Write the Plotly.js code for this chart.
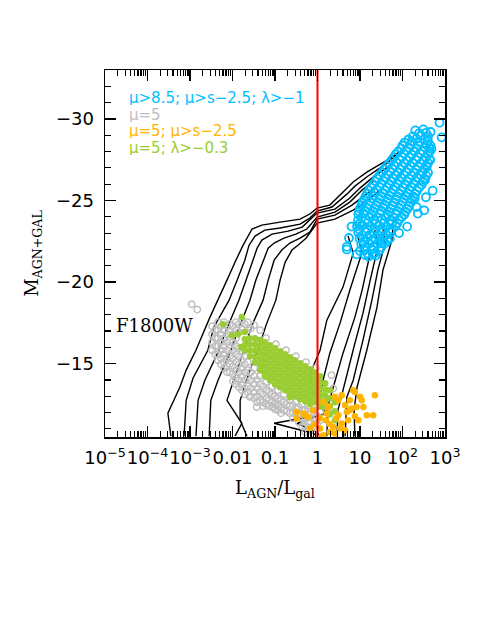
<!DOCTYPE html>
<html>
<head>
<meta charset="utf-8">
<script src="https://cdn.plot.ly/plotly-3.0.1.min.js"></script>
<style>html,body{margin:0;padding:0;background:#fff}#plot{width:485px;height:627px}</style>
</head>
<body>
<div id="plot"></div>
<script>
// ---- x values are given as log10(L_AGN/L_gal) ----
// Model tracks (black lines)
const trackLogL = [
  [-3.45,-3.52,-3.38,-3.24,-3.09,-2.86,-2.53,-2.34,-2.13,-1.92,-1.75,-1.54,-1.31,-0.88,-0.41,-0.18,-0.01,0.29,0.65,0.84,1.16,1.64,1.92],
  [-3.14,-3.09,-2.93,-2.58,-2.44,-2.08,-1.89,-1.71,-1.61,-1.47,-1.24,-0.88,-0.41,-0.18,-0.01,0.34,0.69,0.88,1.19,1.64,1.85],
  [-2.86,-2.81,-2.65,-2.32,-2.15,-1.85,-1.68,-1.52,-1.42,-1.31,-1.07,-0.69,-0.36,-0.01,0.41,0.76,1.00,1.28,1.71],
  [-2.55,-2.51,-2.34,-2.04,-1.87,-1.59,-1.45,-1.28,-1.16,-1.02,-0.79,-0.51,-0.25,-0.01,0.41,0.76,1.05,1.35],
  [-1.94,-1.78,-2.13,-2.01,-1.73,-1.54,-1.28,-1.16,-1.02,-0.84,-0.65,-0.41,-0.18,-0.01,0.41,0.81,1.12,1.42],
  [-1.66,-1.82,-1.82,-1.59,-1.40,-1.21,-0.98,-0.88,-0.76,-0.60,-0.46,-0.27,-0.01,0.41,0.84,1.19,1.47],
  [0.72,0.84,0.60,0.22,0.06,-0.11,-0.18,0.01,0.29,-1.02,-0.11,-0.01],
  [0.93,1.05,0.76,0.53,0.29,0.13,0.06,0.18,-0.48,-0.01,0.06],
  [1.14,1.24,1.05,0.88,0.60,0.36,0.25,0.22],
  [1.35,1.42,1.24,1.07,0.88,0.65,0.48,0.46],
  [1.54,1.59,1.42,1.28,1.07,0.84,0.69,0.65],
  [1.78,1.75,1.54,1.40,1.16,0.93,0.86,0.88]
];
const trackMag = [
  [-10.55,-11.96,-12.75,-13.55,-14.60,-15.82,-17.85,-18.89,-20.12,-21.34,-22.26,-23.25,-23.49,-23.67,-23.86,-24.17,-24.53,-24.72,-25.64,-26.13,-26.74,-27.48,-27.97],
  [-10.55,-12.75,-14.10,-15.82,-17.23,-18.89,-20.12,-21.34,-22.26,-22.82,-23.18,-23.31,-23.55,-23.92,-24.35,-24.60,-25.39,-25.88,-26.50,-27.29,-27.79],
  [-10.55,-12.75,-13.98,-15.82,-17.05,-18.89,-20.12,-21.34,-22.08,-22.57,-22.94,-23.12,-23.37,-24.23,-24.47,-25.15,-25.76,-26.37,-27.17],
  [-10.55,-12.75,-13.98,-15.82,-17.05,-18.89,-20.12,-21.34,-22.08,-22.39,-22.69,-22.94,-23.25,-23.98,-24.29,-24.90,-25.64,-26.25],
  [-10.55,-11.34,-12.75,-13.67,-15.82,-17.36,-18.89,-20.12,-21.34,-21.96,-22.39,-22.69,-23.06,-23.86,-24.10,-24.72,-25.33,-25.94],
  [-10.55,-11.53,-12.75,-14.60,-15.82,-17.36,-18.89,-20.12,-21.22,-21.96,-22.26,-22.69,-23.61,-23.86,-24.41,-25.02,-25.64],
  [-22.82,-21.77,-19.69,-17.66,-15.82,-14.78,-13.67,-12.75,-11.96,-11.34,-10.73,-10.55],
  [-22.94,-21.83,-19.50,-17.48,-15.64,-13.98,-12.75,-11.96,-11.34,-10.79,-10.55],
  [-23.00,-21.77,-19.50,-17.85,-15.64,-13.55,-12.45,-10.55],
  [-23.18,-22.14,-20.12,-18.09,-16.25,-13.80,-12.14,-10.55],
  [-23.31,-22.39,-20.73,-18.89,-16.44,-13.98,-12.94,-10.55],
  [-23.55,-22.57,-20.73,-18.46,-15.82,-13.55,-12.14,-10.55]
];

// mu>8.5; mu>s-2.5; lambda>-1 (blue open circles)
const blueLogL = [
  2.30,2.49, 2.39,2.55,
  2.24,2.43,2.60, 2.14,2.33,2.52,
  2.05,2.22,2.41,2.60, 2.00,2.18,2.37,2.56,2.66,
  1.97,2.15,2.33,2.52,2.68, 1.90,2.09,2.28,2.47,2.64,
  1.84,2.03,2.22,2.41,2.60, 1.79,1.98,2.17,2.36,2.55,
  1.74,1.93,2.12,2.31,2.50,2.64, 1.68,1.86,2.05,2.24,2.43,2.60,
  1.62,1.80,1.99,2.18,2.37,2.56, 1.57,1.76,1.95,2.14,2.33,2.52,
  1.52,1.71,1.90,2.09,2.28,2.47,2.60, 1.46,1.65,1.84,2.03,2.22,2.41,2.56,
  1.40,1.58,1.77,1.96,2.15,2.34,2.52, 1.36,1.55,1.74,1.93,2.12,2.31,2.48,
  1.31,1.50,1.69,1.88,2.07,2.26,2.45, 1.26,1.45,1.64,1.83,2.02,2.21,2.39,
  1.21,1.40,1.59,1.78,1.97,2.16,2.34, 1.17,1.36,1.55,1.74,1.93,2.12,2.30,
  1.13,1.31,1.50,1.69,1.88,2.07,2.26, 1.10,1.28,1.47,1.66,1.85,2.04,2.22,
  1.06,1.24,1.43,1.62,1.81,2.00,2.19, 1.03,1.20,1.39,1.58,1.77,1.96,2.15,
  1.00,1.16,1.35,1.54,1.73,1.92,2.12, 0.98,1.12,1.31,1.50,1.69,1.88,2.07,
  0.96,1.09,1.28,1.47,1.66,1.85,2.04, 1.04,1.23,1.42,1.61,1.80,1.98,
  0.95,1.14,1.33,1.52,1.71,1.92, 0.99,1.18,1.37,1.56,1.75,1.88,
  0.93,1.06,1.25,1.44,1.63,1.84, 0.98,1.16,1.35,1.54,1.75,
  0.96,1.14,1.33,1.52,1.72, 1.05,1.24,1.43,1.62,
  0.99,1.17,1.36,1.55,1.70, 1.08,1.27,1.46,1.64,
  1.03,1.22,1.41,1.59, 1.12,1.31,1.50,
  1.10,1.29,1.46, 1.18,1.36,
  1.20,1.37,
  2.87,2.92,2.66,2.63,2.57,2.53,2.71,2.51,2.36,2.11,1.92,1.53,1.31,1.12,0.92,0.69,0.80,0.74,2.65,2.55,2.29,2.33,0.69,1.00
];
const blueMag = [
  -29.30,-29.36, -29.12,-29.15,
  -28.93,-28.98,-28.92, -28.74,-28.79,-28.75,
  -28.55,-28.61,-28.57,-28.62, -28.37,-28.42,-28.38,-28.41,-28.36,
  -28.19,-28.24,-28.20,-28.26,-28.17, -28.01,-28.06,-28.02,-28.05,-28.00,
  -27.83,-27.88,-27.81,-27.89,-27.84, -27.64,-27.69,-27.65,-27.68,-27.63,
  -27.46,-27.51,-27.45,-27.50,-27.44,-27.53, -27.27,-27.32,-27.28,-27.31,-27.26,-27.30,
  -27.09,-27.14,-27.10,-27.13,-27.07,-27.15, -26.91,-26.96,-26.92,-26.95,-26.90,-26.94,
  -26.72,-26.77,-26.73,-26.76,-26.71,-26.78,-26.70, -26.54,-26.59,-26.55,-26.58,-26.53,-26.57,-26.52,
  -26.35,-26.40,-26.36,-26.41,-26.34,-26.39,-26.33, -26.17,-26.22,-26.18,-26.21,-26.16,-26.20,-26.15,
  -25.99,-26.04,-26.00,-26.05,-25.98,-26.03,-25.97, -25.80,-25.85,-25.81,-25.84,-25.79,-25.83,-25.78,
  -25.62,-25.67,-25.63,-25.68,-25.61,-25.66,-25.60, -25.43,-25.48,-25.44,-25.47,-25.42,-25.46,-25.41,
  -25.25,-25.30,-25.26,-25.31,-25.24,-25.29,-25.23, -25.07,-25.12,-25.08,-25.11,-25.06,-25.10,-25.05,
  -24.88,-24.93,-24.89,-24.94,-24.87,-24.92,-24.86, -24.70,-24.75,-24.71,-24.74,-24.69,-24.73,-24.68,
  -24.51,-24.56,-24.52,-24.57,-24.50,-24.55,-24.49, -24.33,-24.38,-24.34,-24.37,-24.32,-24.36,-24.31,
  -24.15,-24.20,-24.16,-24.21,-24.14,-24.19,-24.13, -23.96,-24.01,-23.97,-24.00,-23.95,-23.99,
  -23.78,-23.83,-23.79,-23.84,-23.77,-23.82, -23.59,-23.64,-23.60,-23.63,-23.58,-23.62,
  -23.41,-23.46,-23.42,-23.47,-23.40,-23.45, -23.23,-23.28,-23.24,-23.27,-23.22,
  -23.04,-23.09,-23.05,-23.10,-23.03, -22.86,-22.91,-22.87,-22.90,
  -22.67,-22.72,-22.68,-22.73,-22.66, -22.49,-22.54,-22.50,-22.53,
  -22.31,-22.36,-22.32,-22.37, -22.12,-22.17,-22.13,
  -21.94,-21.99,-21.95, -21.75,-21.80,
  -21.57,-21.62,
  -29.77,-28.87,-29.20,-28.20,-27.07,-26.25,-25.60,-24.40,-24.20,-23.40,-23.00,-22.40,-21.70,-21.65,-21.70,-22.00,-23.40,-22.70,-27.48,-25.20,-25.13,-24.60,-22.16,-21.90
];

// mu=5 (grey open circles)
const greyLogL = [
  -2.48,-2.48,-2.48,-2.48,
  -2.41,-2.41,-2.41,-2.41,
  -2.34,-2.34,-2.34,-2.34,-2.34,-2.34,
  -2.27,-2.27,-2.27,-2.27,-2.27,-2.27,
  -2.20,-2.20,-2.20,-2.20,-2.20,-2.20,-2.20,
  -2.13,-2.13,-2.13,-2.13,-2.13,-2.13,-2.13,
  -2.06,-2.06,-2.06,-2.06,-2.06,-2.06,-2.06,
  -1.99,-1.99,-1.99,-1.99,-1.99,-1.99,-1.99,-1.99,
  -1.92,-1.92,-1.92,-1.92,-1.92,-1.92,-1.92,-1.92,-1.92,
  -1.85,-1.85,-1.85,-1.85,-1.85,-1.85,-1.85,-1.85,
  -1.78,-1.78,-1.78,-1.78,-1.78,-1.78,-1.78,-1.78,
  -1.71,-1.71,-1.71,-1.71,-1.71,-1.71,-1.71,
  -1.64,-1.64,-1.64,-1.64,-1.64,-1.64,-1.64,
  -1.57,-1.57,-1.57,-1.57,-1.57,
  -1.49,-1.49,-1.49,-1.49,-1.49,-1.49,
  -1.42,-1.42,-1.42,-1.42,
  -1.35,-1.35,-1.35,-1.35,-1.35,
  -1.28,-1.28,-1.28,-1.28,
  -1.21,-1.21,-1.21,-1.21,
  -1.14,-1.14,-1.14,
  -1.07,-1.07,-1.07,-1.07,
  -1.00,-1.00,-1.00,
  -0.93,-0.93,-0.93,-0.93,
  -0.86,-0.86,-0.86,
  -0.79,-0.79,-0.79,
  -0.72,-0.72,
  -0.65,-0.65,-0.65,
  -0.58,-0.58,-0.58,
  -0.51,-0.51,-0.51,
  -0.44,-0.44,-0.44,
  -0.36,-0.36,-0.36,-0.36,
  -0.29,-0.29,-0.29,-0.29,
  -0.22,-0.22,-0.22,-0.22,
  -0.15,-0.15,-0.15,
  -0.08,-0.08,-0.08,-0.08,
  -0.01,-0.01,
  0.06,0.06,
  -2.96,-2.83,0.33,0.37,0.18,0.29,-0.25,-1.59,-1.43,-1.04,-0.41,
  -1.21,-0.98,-0.74,-0.51,-0.27,-0.04
];
const greyMag = [
  -17.29,-16.80,-16.31,-15.82,
  -17.05,-16.56,-16.07,-15.58,
  -17.54,-17.05,-16.56,-16.07,-15.58,-15.21,
  -17.30,-16.80,-16.31,-15.82,-15.33,-14.96,
  -17.54,-17.05,-16.56,-16.07,-15.58,-15.09,-14.72,
  -17.30,-16.80,-16.31,-15.82,-15.33,-14.84,-14.47,
  -17.42,-16.93,-16.44,-15.94,-15.45,-14.96,-14.47,
  -17.30,-16.80,-16.31,-15.82,-15.33,-14.84,-14.35,-13.92,
  -17.54,-17.05,-16.56,-16.07,-15.58,-15.09,-14.60,-14.10,-13.74,
  -17.42,-16.93,-15.94,-15.45,-14.96,-14.47,-13.98,-13.55,
  -17.66,-17.17,-15.70,-15.21,-14.72,-14.23,-13.74,-13.37,
  -17.42,-15.45,-14.96,-14.47,-13.98,-13.49,-13.12,
  -17.54,-17.05,-15.09,-14.60,-14.10,-13.61,-13.25,
  -17.17,-14.47,-13.98,-13.49,-13.00,
  -17.36,-14.72,-14.23,-13.74,-13.25,-12.88,
  -14.00,-13.49,-13.00,-12.63,
  -17.05,-14.23,-13.74,-13.25,-12.75,
  -13.61,-13.12,-12.63,-12.39,
  -13.86,-13.37,-12.88,-12.51,
  -13.25,-12.75,-12.39,
  -13.61,-13.12,-12.63,-12.33,
  -13.00,-12.51,-12.20,
  -13.37,-12.88,-12.39,-12.14,
  -12.75,-12.26,-11.96,
  -13.12,-12.63,-12.14,
  -12.51,-12.08,
  -12.75,-12.39,-11.96,
  -12.45,-12.02,-11.65,
  -12.63,-12.26,-11.90,
  -12.33,-11.90,-11.40,
  -12.51,-12.14,-11.65,-11.16,
  -12.14,-11.65,-11.16,-10.79,
  -12.39,-11.90,-11.40,-10.91,
  -11.90,-11.40,-10.91,
  -12.14,-11.65,-11.16,-10.67,
  -11.78,-11.28,
  -12.02,-11.53,
  -18.64,-18.32,-14.29,-13.47,-12.75,-11.94,-14.49,-12.96,-12.34,-12.34,-11.94,
  -16.56,-16.19,-15.82,-15.45,-15.09,-14.72
];

// mu=5; lambda>-0.3 (green filled)
const greenLogL = [
  -1.71,-1.71,-1.71,
  -1.59,-1.59,-1.59,-1.59,
  -1.47,-1.47,-1.47,-1.47,-1.47,
  -1.35,-1.35,-1.35,-1.35,-1.35,-1.35,
  -1.24,-1.24,-1.24,-1.24,-1.24,-1.24,-1.24,
  -1.12,-1.12,-1.12,-1.12,-1.12,-1.12,-1.12,
  -1.00,-1.00,-1.00,-1.00,-1.00,-1.00,-1.00,
  -0.88,-0.88,-0.88,-0.88,-0.88,-0.88,-0.88,
  -0.76,-0.76,-0.76,-0.76,-0.76,-0.76,-0.76,
  -0.65,-0.65,-0.65,-0.65,-0.65,-0.65,-0.65,-0.65,
  -0.53,-0.53,-0.53,-0.53,-0.53,-0.53,-0.53,
  -0.41,-0.41,-0.41,-0.41,-0.41,-0.41,-0.41,
  -0.29,-0.29,-0.29,-0.29,-0.29,-0.29,-0.29,
  -0.18,-0.18,-0.18,-0.18,-0.18,-0.18,-0.18,
  -0.06,-0.06,-0.06,-0.06,-0.06,-0.06,
  0.06,0.06,0.06,0.06,0.06,0.06,
  0.18,0.18,0.18,0.18,0.18,
  0.29,0.29,0.29,0.29,
  0.41,0.41,0.41,
  -2.22,-1.78,-1.87,-1.71,-2.02,-1.80
];
const greenMag = [
  -16.50,-16.13,-15.82,
  -16.56,-16.19,-15.82,-15.45,
  -16.56,-16.19,-15.82,-15.45,-15.09,
  -16.44,-16.07,-15.70,-15.33,-14.96,-14.60,
  -16.31,-15.94,-15.58,-15.21,-14.84,-14.47,-14.23,
  -16.13,-15.76,-15.39,-15.02,-14.66,-14.29,-13.98,
  -15.94,-15.58,-15.21,-14.84,-14.47,-14.10,-13.74,
  -15.76,-15.39,-15.02,-14.66,-14.29,-13.92,-13.55,
  -15.58,-15.21,-14.84,-14.47,-14.10,-13.74,-13.37,
  -15.39,-15.02,-14.66,-14.29,-13.92,-13.55,-13.18,-12.94,
  -15.21,-14.84,-14.47,-14.10,-13.74,-13.37,-13.00,
  -15.02,-14.66,-14.29,-13.92,-13.55,-13.18,-12.82,
  -14.84,-14.47,-14.10,-13.74,-13.37,-13.00,-12.69,
  -14.66,-14.29,-13.92,-13.55,-13.18,-12.82,-12.51,
  -14.47,-14.10,-13.74,-13.37,-13.00,-12.63,
  -14.23,-13.86,-13.49,-13.12,-12.75,-12.39,
  -13.80,-13.43,-13.06,-12.69,-12.33,
  -13.37,-12.88,-12.39,-11.90,
  -12.63,-12.08,-11.53,
  -17.42,-17.85,-16.80,-16.94,-16.74,-16.02
];

// mu=5; mu>s-2.5 (orange filled)
const orangeLogL = [-0.49,-0.49,-0.29,-0.33,-0.22,-0.10,0.14,0.25,0.41,0.49,0.57,0.76,0.88,1.00,1.04,1.08,0.80,0.69,0.96,1.16,1.31,1.35,0.49,0.57,0.37,0.41,0.29,0.06,0.14,0.65,0.76,0.92,0.10,0.06,0.20,0.29,0.44,0.53,-0.06,-0.18,0.22,0.65,0.88,0.72,0.84];
const orangeMag = [-12.04,-11.63,-11.83,-11.94,-11.73,-12.14,-12.65,-12.34,-12.96,-12.75,-13.06,-12.75,-13.26,-12.96,-12.75,-12.34,-12.24,-12.04,-11.53,-11.83,-11.83,-13.06,-11.83,-11.33,-11.12,-10.71,-10.81,-11.02,-10.61,-10.91,-12.14,-12.34,-10.55,-11.65,-11.53,-11.28,-11.65,-11.04,-11.28,-11.04,-11.94,-12.45,-11.77,-11.53,-13.37];

const xTickVals = [1e-5,1e-4,1e-3,0.01,0.1,1,10,100,1000];
const xTickText = ['10<sup>−5</sup>','10<sup>−4</sup>','10<sup>−3</sup>','0.01','0.1','1','10','10<sup>2</sup>','10<sup>3</sup>'];
const legendLines = ['μ>8.5; μ>s−2.5; λ>−1','μ=5','μ=5; μ>s−2.5','μ=5; λ>−0.3'];
const legendColors = ['#00bfff','#bebebe','#ffb400','#9acd32'];
const ratioLimit = [1, 1];
const magLimit = [-10.5, -33];

const lin = a => a.map(v => Math.pow(10, v));

const traces = [];
trackLogL.forEach((lx, i) => {
  traces.push({x: lin(lx), y: trackMag[i], mode: 'lines', type: 'scatter',
    line: {color: '#000', width: 1.4}, hoverinfo: 'skip', showlegend: false});
});
traces.push({x: lin(greyLogL), y: greyMag, mode: 'markers', type: 'scatter', showlegend: false,
  marker: {symbol: 'circle-open', size: 6.5, color: '#bebebe', line: {width: 1.4, color: '#bebebe'}}});
traces.push({x: lin(greenLogL), y: greenMag, mode: 'markers', type: 'scatter', showlegend: false,
  marker: {symbol: 'circle', size: 6.5, color: '#9acd32'}});
traces.push({x: lin(orangeLogL), y: orangeMag, mode: 'markers', type: 'scatter', showlegend: false,
  marker: {symbol: 'circle', size: 6.5, color: '#ffb400'}});
traces.push({x: lin(blueLogL), y: blueMag, mode: 'markers', type: 'scatter', showlegend: false,
  marker: {symbol: 'circle-open', size: 8, color: '#00bfff', line: {width: 1.8, color: '#00bfff'}}});
traces.push({x: ratioLimit, y: magLimit, mode: 'lines', type: 'scatter', showlegend: false,
  line: {color: '#ff0000', width: 2}});

const annotations = legendLines.map((t, i) => ({
  xref: 'paper', yref: 'paper', x: 0.064, y: 0.925 - i * 0.045, xanchor: 'left', yanchor: 'middle',
  height: 15, valign: 'middle',
  text: t, showarrow: false, font: {family: 'DejaVu Sans', size: 15, color: legendColors[i]}
}));
annotations.push({xref: 'paper', yref: 'paper', x: 0.026, y: 0.305, xanchor: 'left', yanchor: 'middle',
  text: 'F1800W', showarrow: false, font: {family: 'DejaVu Serif', size: 18, color: '#000'}});

const axisCommon = {
  showline: true, linecolor: '#000', linewidth: 1.5, mirror: 'allticks',
  ticks: 'inside', ticklen: 11, tickwidth: 1.3, tickcolor: '#000',
  showgrid: false, zeroline: false,
  tickfont: {family: 'DejaVu Sans', size: 18, color: '#000'}
};

const layout = {
  width: 485, height: 627,
  margin: {l: 105, r: 40, t: 70, b: 190},
  paper_bgcolor: '#fff', plot_bgcolor: '#fff',
  showlegend: false,
  xaxis: Object.assign({}, axisCommon, {
    type: 'log', range: [-5, 3], tickmode: 'array', tickvals: xTickVals, ticktext: xTickText,
    tickangle: 0, ticklabelstandoff: 4,
    minor: {ticks: 'inside', ticklen: 6, tickwidth: 1.2, tickcolor: '#000', dtick: 'D1', showgrid: false},
    title: {text: 'L<sub>AGN</sub>/L<sub>gal</sub>', font: {family: 'DejaVu Serif', size: 18, color: '#000'}, standoff: 14}
  }),
  yaxis: Object.assign({}, axisCommon, {
    range: [-10.5, -33], tick0: -30, dtick: 5,
    ticklabelstandoff: 6,
    minor: {ticks: 'inside', ticklen: 6, tickwidth: 1.2, tickcolor: '#000', dtick: 1, showgrid: false},
    title: {text: 'M<sub>AGN+GAL</sub>', font: {family: 'DejaVu Serif', size: 18, color: '#000'}, standoff: 12}
  }),
  annotations: annotations
};

Plotly.newPlot('plot', traces, layout, {displayModeBar: false, staticPlot: true});
</script>
</body>
</html>
